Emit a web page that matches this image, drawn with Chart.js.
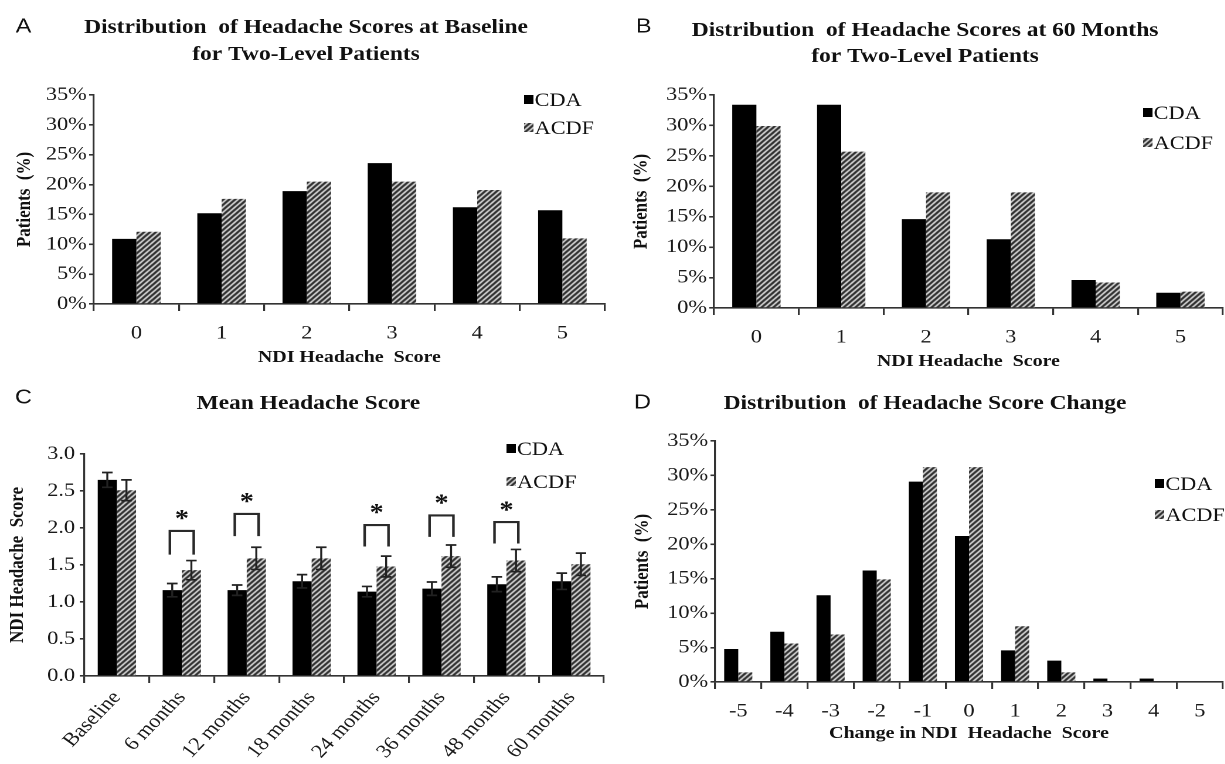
<!DOCTYPE html>
<html>
<head>
<meta charset="utf-8">
<script src="https://cdn.jsdelivr.net/npm/chart.js@4.4.0/dist/chart.umd.min.js"></script>
<style>
  html, body { margin: 0; padding: 0; background: #fff; overflow: hidden; }
  #wrap { position: relative; width: 1225px; height: 764px; }
  .panel { position: absolute; width: 522px; height: 382px; transform: scaleX(1.1724); transform-origin: 0 0; }
</style>
</head>
<body>
<div id="wrap">
  <div class="panel" style="left:0;top:0"><canvas id="chartA" width="522" height="382"></canvas></div>
  <div class="panel" style="left:612px;top:0"><canvas id="chartB" width="522" height="382"></canvas></div>
  <div class="panel" style="left:0;top:382px"><canvas id="chartC" width="522" height="382"></canvas></div>
  <div class="panel" style="left:612px;top:382px"><canvas id="chartD" width="522" height="382"></canvas></div>
</div>
<script>
// data
const scoreLabels = ['0', '1', '2', '3', '4', '5'];
const baselineCDA = [10.9, 15.2, 18.9, 23.6, 16.2, 15.7];
const baselineACDF = [12.1, 17.6, 20.5, 20.5, 19.1, 11.0];

const month60CDA = [33.4, 33.4, 14.6, 11.3, 4.6, 2.5];
const month60ACDF = [29.9, 25.7, 19.0, 19.0, 4.2, 2.7];

const visitLabels = ['Baseline', '6 months', '12 months', '18 months', '24 months', '36 months', '48 months', '60 months'];
const meanCDA = [2.65, 1.16, 1.16, 1.28, 1.14, 1.18, 1.24, 1.28];
const meanACDF = [2.51, 1.43, 1.59, 1.59, 1.48, 1.62, 1.56, 1.51];
const errCDA = [0.10, 0.09, 0.07, 0.09, 0.07, 0.09, 0.10, 0.11];
const errACDF = [0.14, 0.13, 0.15, 0.15, 0.14, 0.15, 0.15, 0.15];
// significance brackets (*): visit index, bracket top, leg bottom
const sigIdx = [1, 2, 4, 5, 6];
const sigTop = [1.96, 2.19, 2.04, 2.17, 2.08];
const sigLeg = [1.64, 1.89, 1.75, 1.88, 1.79];

const changeLabels = ['-5', '-4', '-3', '-2', '-1', '0', '1', '2', '3', '4', '5'];
const changeCDA = [4.8, 7.3, 12.6, 16.2, 29.1, 21.2, 4.6, 3.1, 0.5, 0.5, 0];
const changeACDF = [1.4, 5.6, 6.9, 14.9, 31.2, 31.2, 8.1, 1.4, 0, 0, 0];

const W = 522, H = 382;
const AXIS = '#333';
const SERIF = '"Liberation Serif", "Times New Roman", serif';

function makeHatch() {
  const s = 5;
  const c = document.createElement('canvas');
  c.width = s; c.height = s;
  const g = c.getContext('2d');
  g.fillStyle = '#fff';
  g.fillRect(0, 0, s, s);
  g.strokeStyle = '#222';
  g.lineWidth = 2.2;
  g.beginPath();
  g.moveTo(0, s); g.lineTo(s, 0);
  g.moveTo(-s, s); g.lineTo(s, -s);
  g.moveTo(0, 2 * s); g.lineTo(2 * s, 0);
  g.stroke();
  return g.createPattern(c, 'repeat');
}
const hatch = makeHatch();

// title, panel letter and legend
const panelExtras = {
  id: 'panelExtras',
  afterDraw(chart, args, o) {
    const ctx = chart.ctx;
    ctx.save();
    ctx.fillStyle = '#111';
    ctx.textBaseline = 'middle';
    ctx.textAlign = 'center';
    ctx.font = '20px "Liberation Sans", Arial, sans-serif';
    ctx.fillText(o.letter, o.letterX, o.letterY);
    ctx.font = 'bold 20px ' + SERIF;
    o.title.forEach((t, i) => ctx.fillText(t, o.titleX, o.titleY[i]));
    ctx.textAlign = 'left';
    ctx.font = '19px ' + SERIF;
    chart.data.datasets.forEach((ds, i) => {
      const y = o.legY[i];
      ctx.fillStyle = ds.backgroundColor;
      ctx.fillRect(o.legX, y - 5, 8, 9);
      ctx.fillStyle = '#111';
      ctx.fillText(ds.label, o.legX + 9, y + 1);
    });
    ctx.restore();
  }
};

// error bars and significance brackets for the mean score panel
const errorBars = {
  id: 'errorBars',
  afterDatasetsDraw(chart, args, o) {
    if (!o || !o.errors) return;
    const ctx = chart.ctx;
    const ys = chart.scales.y;
    ctx.save();
    ctx.strokeStyle = '#222';
    ctx.lineWidth = 1.7;
    chart.data.datasets.forEach((ds, d) => {
      const meta = chart.getDatasetMeta(d);
      meta.data.forEach((bar, i) => {
        const v = ds.data[i], e = o.errors[d][i];
        const yt = ys.getPixelForValue(v + e), yb = ys.getPixelForValue(v - e);
        ctx.beginPath();
        ctx.moveTo(bar.x, yt); ctx.lineTo(bar.x, yb);
        ctx.moveTo(bar.x - 4.5, yt); ctx.lineTo(bar.x + 4.5, yt);
        ctx.moveTo(bar.x - 4.5, yb); ctx.lineTo(bar.x + 4.5, yb);
        ctx.stroke();
      });
    });
    const m0 = chart.getDatasetMeta(0), m1 = chart.getDatasetMeta(1);
    ctx.lineWidth = 2.2;
    ctx.strokeStyle = '#2a2a2a';
    ctx.fillStyle = '#111';
    ctx.textAlign = 'center';
    ctx.textBaseline = 'middle';
    ctx.font = 'bold 24px ' + SERIF;
    o.sigIdx.forEach((idx, k) => {
      const xl = m0.data[idx].x - 2, xr = m1.data[idx].x + 2;
      const yt = ys.getPixelForValue(o.sigTop[k]), yl = ys.getPixelForValue(o.sigLeg[k]);
      ctx.beginPath();
      ctx.moveTo(xl, yl); ctx.lineTo(xl, yt); ctx.lineTo(xr, yt); ctx.lineTo(xr, yl);
      ctx.stroke();
      ctx.fillText('*', (xl + xr) / 2, yt - 11);
    });
    ctx.restore();
  }
};

function axisX(g, o) {
  return {
    grid: { display: true, drawOnChartArea: false, drawTicks: true, tickLength: 7, color: AXIS, lineWidth: 1.6 },
    border: { display: true, color: AXIS, width: 1.6 },
    ticks: Object.assign({ color: '#1a1a1a', font: { family: SERIF, size: 19 }, padding: 6, autoSkip: false, maxRotation: 0 }, o.ticks || {}),
    title: o.title ? { display: true, text: o.title, color: '#111', font: { family: SERIF, size: 17, weight: 'bold' }, padding: { top: 0, bottom: o.titlePad } } : { display: false },
    afterFit: s => { s.height = H - g.bottom; }
  };
}

function axisY(g, o) {
  return {
    min: 0, max: o.max,
    grid: { display: true, drawOnChartArea: false, drawTicks: true, tickLength: 4, color: AXIS, lineWidth: 1.6 },
    border: { display: true, color: AXIS, width: 1.6 },
    ticks: { stepSize: o.step, color: '#1a1a1a', font: { family: SERIF, size: 19 }, padding: o.tickPad, callback: o.fmt },
    title: { display: true, text: o.title, color: '#111', font: { family: SERIF, size: 17, weight: 'bold' }, padding: { top: o.titlePad, bottom: 0 } },
    afterFit: s => { s.width = g.left; }
  };
}

function makeChart(id, labels, cda, acdf, g, catPct, xo, yo, extras, errs) {
  const plugins = [panelExtras];
  if (errs) plugins.push(errorBars);
  return new Chart(document.getElementById(id), {
    type: 'bar',
    data: {
      labels: labels,
      datasets: [
        { label: 'CDA', data: cda, backgroundColor: '#000', borderWidth: 0, categoryPercentage: catPct, barPercentage: 1 },
        { label: 'ACDF', data: acdf, backgroundColor: hatch, borderWidth: 0, categoryPercentage: catPct, barPercentage: 1 }
      ]
    },
    options: {
      responsive: false,
      animation: false,
      devicePixelRatio: 2,
      layout: { padding: { left: 0, top: g.top, right: W - g.right, bottom: 0 } },
      plugins: {
        legend: { display: false },
        tooltip: { enabled: false },
        panelExtras: extras,
        errorBars: errs || {}
      },
      scales: { x: axisX(g, xo), y: axisY(g, yo) }
    },
    plugins: plugins
  });
}

const pct = v => v + '%';

makeChart('chartA', scoreLabels, baselineCDA, baselineACDF,
  { left: 80, right: 516, top: 95, bottom: 304 }, 0.57,
  { title: 'NDI Headache  Score', titlePad: 14, ticks: { padding: 11 } },
  { max: 35, step: 5, fmt: pct, tickPad: 2, title: 'Patients  (%)', titlePad: 11 },
  { letter: 'A', letterX: 20, letterY: 27, title: ['Distribution  of Headache Scores at Baseline', 'for Two-Level Patients'], titleX: 261, titleY: [28, 55], legX: 447, legY: [100, 128] });

makeChart('chartB', scoreLabels, month60CDA, month60ACDF,
  { left: 87, right: 521, top: 95, bottom: 308 }, 0.57,
  { title: 'NDI Headache  Score', titlePad: 10, ticks: { padding: 11 } },
  { max: 35, step: 5, fmt: pct, tickPad: 2, title: 'Patients  (%)', titlePad: 15 },
  { letter: 'B', letterX: 27, letterY: 27, title: ['Distribution  of Headache Scores at 60 Months', 'for Two-Level Patients'], titleX: 267, titleY: [31, 57], legX: 453, legY: [113, 143] });

makeChart('chartC', visitLabels, meanCDA, meanACDF,
  { left: 72, right: 515, top: 72, bottom: 294 }, 0.59,
  { ticks: { padding: 4, maxRotation: 50, minRotation: 50 } },
  { max: 3, step: 0.5, fmt: v => v.toFixed(1), tickPad: 4, title: 'NDI Headache  Score', titlePad: 5 },
  { letter: 'C', letterX: 20, letterY: 16, title: ['Mean Headache Score'], titleX: 263, titleY: [22], legX: 432, legY: [67, 100] },
  { errors: [errCDA, errACDF], sigIdx: sigIdx, sigTop: sigTop, sigLeg: sigLeg });

makeChart('chartD', changeLabels, changeCDA, changeACDF,
  { left: 88, right: 521, top: 59, bottom: 300 }, 0.61,
  { title: 'Change in NDI  Headache  Score', titlePad: 20, ticks: { padding: 11 } },
  { max: 35, step: 5, fmt: pct, tickPad: 2, title: 'Patients  (%)', titlePad: 16 },
  { letter: 'D', letterX: 26, letterY: 21, title: ['Distribution  of Headache Score Change'], titleX: 267, titleY: [22], legX: 463, legY: [102, 133] });
</script>
</body>
</html>
